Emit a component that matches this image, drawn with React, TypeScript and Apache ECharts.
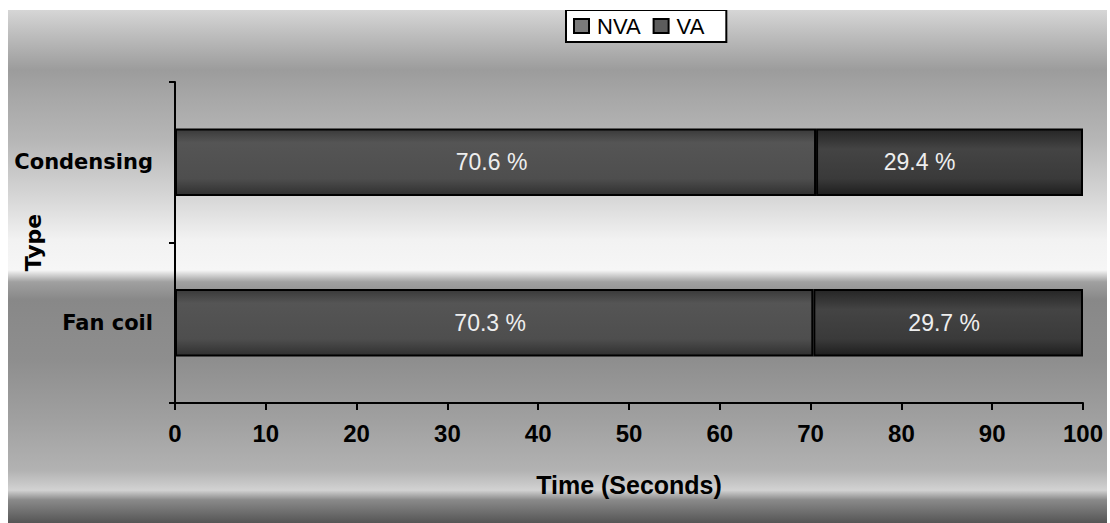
import React, { useEffect, useRef } from "react";
import * as echarts from "echarts";

const categories = ["Fan coil", "Condensing"];
const nvaValues = [70.3, 70.6];
const vaValues = [29.7, 29.4];
const seriesNames = ["NVA", "VA"];
const xTicks = { min: 0, max: 100, interval: 10 };

export default function App() {
  const ref = useRef<HTMLDivElement>(null);
  useEffect(() => {
    const chart = echarts.init(ref.current!, null, { renderer: "svg" });
    const sans = "'Liberation Sans', Arial, sans-serif";
    const wide = "'DejaVu Sans', Verdana, sans-serif";
    const bg = new echarts.graphic.LinearGradient(0, 0, 0, 1, [
      { offset: 0, color: "#d6d6d6" },
      { offset: 0.049, color: "#bdbdbd" },
      { offset: 0.117, color: "#9c9c9c" },
      { offset: 0.175, color: "#a8a8a8" },
      { offset: 0.253, color: "#b6b6b6" },
      { offset: 0.37, color: "#d8d8d8" },
      { offset: 0.448, color: "#f2f2f2" },
      { offset: 0.507, color: "#f6f6f6" },
      { offset: 0.53, color: "#a0a0a0" },
      { offset: 0.565, color: "#888888" },
      { offset: 0.682, color: "#8e8e8e" },
      { offset: 0.799, color: "#a0a0a0" },
      { offset: 0.897, color: "#b2b2b2" },
      { offset: 0.936, color: "#d2d2d2" },
      { offset: 0.955, color: "#8a8a8a" },
      { offset: 1, color: "#555555" },
    ]);
    const nvaGrad = new echarts.graphic.LinearGradient(0, 0, 0, 1, [
      { offset: 0, color: "#3a3a3a" },
      { offset: 0.2, color: "#555555" },
      { offset: 0.75, color: "#4e4e4e" },
      { offset: 1, color: "#303030" },
    ]);
    const vaGrad = new echarts.graphic.LinearGradient(0, 0, 0, 1, [
      { offset: 0, color: "#262626" },
      { offset: 0.3, color: "#444444" },
      { offset: 0.75, color: "#3a3a3a" },
      { offset: 1, color: "#1e1e1e" },
    ]);
    const labelOffsets = [
      [[-4, 0], [-4, 0]],
      [[-4, 0], [-30, 0]],
    ];
    const labelStyle = {
      show: true,
      position: "inside",
      formatter: "{c} %",
      color: "#eeeeee",
      fontFamily: sans,
      fontSize: 23,
    };
    const makeData = (vals: number[], s: number) =>
      vals.map((v, i) => ({ value: v, label: { offset: labelOffsets[i][s] } }));
    chart.setOption({
      animation: false,
      backgroundColor: bg,
      legend: {
        top: 0,
        left: 558,
        data: [
          { name: seriesNames[0], itemStyle: { color: "#7a7a7a", borderColor: "#000", borderWidth: 2 } },
          { name: seriesNames[1], itemStyle: { color: "#5c5c5c", borderColor: "#000", borderWidth: 2 } },
        ],
        backgroundColor: "#ffffff",
        borderColor: "#000000",
        borderWidth: 2,
        borderRadius: 0,
        padding: [5, 22, 5, 7],
        itemWidth: 15,
        itemHeight: 14,
        itemGap: 12,
        icon: "rect",
        textStyle: { fontFamily: sans, fontSize: 22, color: "#000", padding: [0, 0, 0, 3] },
      },
      grid: {
        left: 167,
        right: 24,
        top: 72,
        bottom: 120,
        containLabel: false,
        outerBoundsMode: "none",
      },
      xAxis: {
        type: "value",
        min: xTicks.min,
        max: xTicks.max,
        interval: xTicks.interval,
        name: "Time (Seconds)",
        nameLocation: "middle",
        nameGap: 69,
        nameMoveOverlap: false,
        nameTextStyle: { fontFamily: sans, fontSize: 25, fontWeight: "bold", color: "#000" },
        splitLine: { show: false },
        axisLine: { show: true, lineStyle: { color: "#000", width: 2 } },
        axisTick: { show: true, length: 7, lineStyle: { color: "#000", width: 2 } },
        axisLabel: { fontFamily: sans, fontSize: 24, fontWeight: "bold", color: "#000", margin: 18 },
      },
      yAxis: {
        type: "category",
        data: categories,
        name: "Type",
        nameLocation: "middle",
        nameGap: 131,
        nameMoveOverlap: false,
        nameRotate: 90,
        nameTextStyle: { fontFamily: wide, fontSize: 22, fontWeight: "bold", color: "#000" },
        axisLine: { show: true, lineStyle: { color: "#000", width: 2 } },
        axisTick: { show: true, length: 6, lineStyle: { color: "#000", width: 2 } },
        axisLabel: { fontFamily: wide, fontSize: 21, fontWeight: "bold", color: "#000", margin: 22 },
      },
      series: [
        {
          name: seriesNames[0],
          type: "bar",
          stack: "t",
          data: makeData(nvaValues, 0),
          barWidth: "42%",
          itemStyle: { color: nvaGrad, borderColor: "#000", borderWidth: 2 },
          label: labelStyle,
        },
        {
          name: seriesNames[1],
          type: "bar",
          stack: "t",
          data: makeData(vaValues, 1),
          barWidth: "42%",
          itemStyle: { color: vaGrad, borderColor: "#000", borderWidth: 2 },
          label: labelStyle,
        },
      ],
    });
    return () => chart.dispose();
  }, []);
  return (
    <div
      ref={ref}
      style={{ position: "fixed", left: 8, top: 10, width: 1099, height: 513 }}
    />
  );
}
